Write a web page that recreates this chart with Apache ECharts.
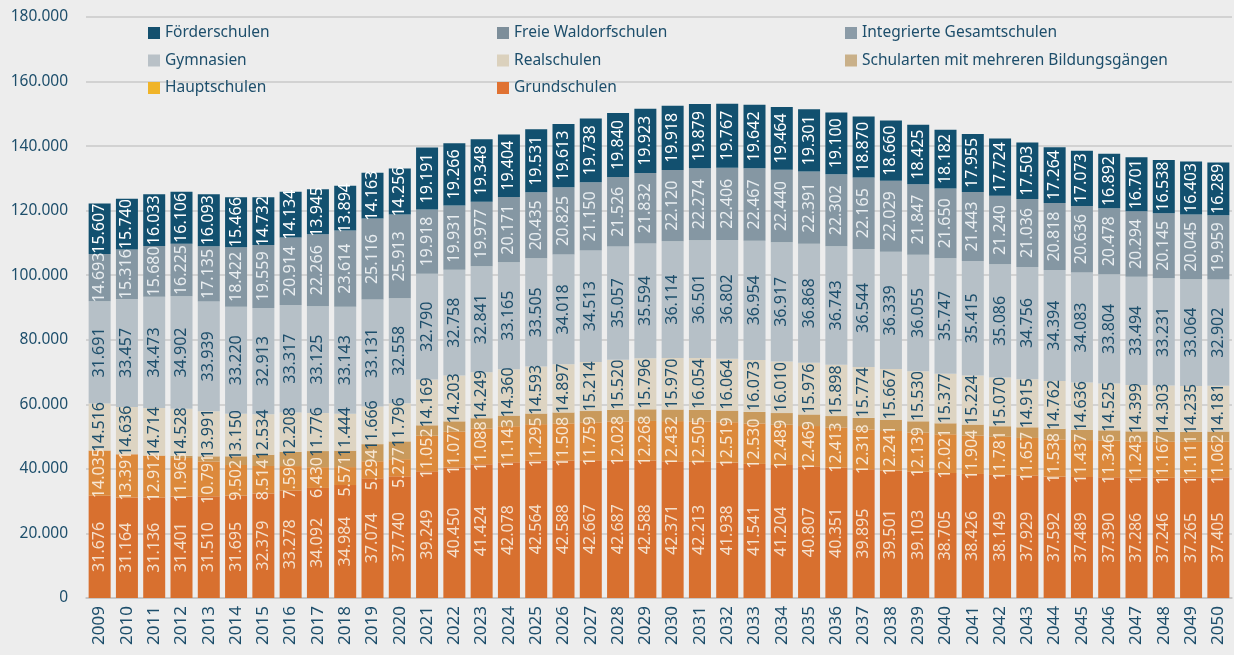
<!DOCTYPE html>
<html>
<head>
<meta charset="utf-8">
<script src="https://cdn.jsdelivr.net/npm/echarts@6/dist/echarts.min.js"></script>
<style>
    html, body { margin: 0; padding: 0; background: #ededed; }
    #id-div-chart { width: 1234px; height: 655px; }
</style>
</head>
<body>
<div id="id-div-chart"></div>
<script>
var log = console.log.bind(console)

var e = (selector) => document.querySelector(selector)

// Jahre 2009 - 2050
var years = []
for (var y = 2009; y <= 2050; y++) {
    years.push(String(y))
}

var grundschulen = [
    31676, 31164, 31136, 31401, 31510, 31695, 32379, 33278, 34092, 34984, 37074, 37740,
    39249, 40450, 41424, 42078, 42564, 42588, 42667, 42687, 42588, 42371, 42213, 41938, 41541, 41204,
    40807, 40351, 39895, 39501, 39103, 38705, 38426, 38149, 37929, 37592, 37489, 37390, 37286, 37246, 37265, 37405,
]

var hauptschulen = [
    14035, 13391, 12912, 11965, 10791, 9502, 8514, 7596, 6430, 5571, 5294, 5277,
    11052, 11077, 11088, 11143, 11295, 11508, 11759, 12028, 12268, 12432, 12505, 12519, 12530, 12489,
    12469, 12413, 12318, 12241, 12139, 12021, 11904, 11781, 11657, 11538, 11437, 11346, 11243, 11167, 11111, 11062,
]

// ohne Beschriftung im Original, aus der Balkenhöhe geschätzt
var mehrereBildungsgaenge = [
    0, 0, 100, 700, 1600, 2700, 3500, 4400, 5000, 5100, 5300, 5500,
    3200, 3200, 3200, 3300, 3300, 3400, 3500, 3600, 3600, 3600, 3600, 3600, 3600, 3600,
    3600, 3600, 3600, 3500, 3500, 3400, 3400, 3300, 3300, 3300, 3200, 3200, 3100, 3100, 3100, 3100,
]

var realschulen = [
    14516, 14636, 14714, 14528, 13991, 13150, 12534, 12208, 11776, 11444, 11666, 11796,
    14169, 14203, 14249, 14360, 14593, 14897, 15214, 15520, 15796, 15970, 16054, 16064, 16073, 16010,
    15976, 15898, 15774, 15667, 15530, 15377, 15224, 15070, 14915, 14762, 14636, 14525, 14399, 14303, 14235, 14181,
]

var gymnasien = [
    31691, 33457, 34473, 34902, 33939, 33220, 32913, 33317, 33125, 33143, 33131, 32558,
    32790, 32758, 32841, 33165, 33505, 34018, 34513, 35057, 35594, 36114, 36501, 36802, 36954, 36917,
    36868, 36743, 36544, 36339, 36055, 35747, 35415, 35086, 34756, 34394, 34083, 33804, 33494, 33231, 33064, 32902,
]

var gesamtschulen = [
    14693, 15316, 15680, 16225, 17135, 18422, 19559, 20914, 22266, 23614, 25116, 25913,
    19918, 19931, 19977, 20171, 20435, 20825, 21150, 21526, 21832, 22120, 22274, 22406, 22467, 22440,
    22391, 22302, 22165, 22029, 21847, 21650, 21443, 21240, 21036, 20818, 20636, 20478, 20294, 20145, 20045, 19959,
]

var waldorfschulen = []

var foerderschulen = [
    15607, 15740, 16033, 16106, 16093, 15466, 14732, 14134, 13945, 13894, 14163, 14256,
    19191, 19266, 19348, 19404, 19531, 19613, 19738, 19840, 19923, 19918, 19879, 19767, 19642, 19464,
    19301, 19100, 18870, 18660, 18425, 18182, 17955, 17724, 17503, 17264, 17073, 16892, 16701, 16538, 16403, 16289,
]

var yTicks = [0, 20000, 40000, 60000, 80000, 100000, 120000, 140000, 160000, 180000]

var navy = '#1d4e6b'
var font = '"Noto Sans", sans-serif'

// 31676 -> "31.676"
var germanNumber = function(n) {
    var s = String(Math.round(n))
    return s.replace(/\B(?=(\d{3})+(?!\d))/g, '.')
}

var barSeries = function(name, data, color, labelColor) {
    var s = {
        name: name,
        type: 'bar',
        stack: 'total',
        data: data,
        barWidth: 22,
        itemStyle: {
            color: color,
        },
        label: {
            show: labelColor != undefined,
            position: 'inside',
            rotate: 90,
            color: labelColor,
            fontFamily: font,
            fontSize: 16,
            formatter: (p) => germanNumber(p.value),
        },
    }
    return s
}

var legendItem = function(name, color) {
    return {
        name: name,
        itemStyle: {
            color: color,
        },
    }
}

var legend = function(left, items) {
    return {
        orient: 'vertical',
        left: left,
        top: 24,
        padding: 0,
        itemGap: 9.5,
        itemWidth: 12,
        itemHeight: 12,
        icon: 'rect',
        selectedMode: false,
        textStyle: {
            color: navy,
            fontFamily: font,
            fontSize: 15.5,
            lineHeight: 18,
        },
        data: items,
    }
}

var chartOption = function() {
    var option = {
        backgroundColor: '#ededed',
        animation: false,
        textStyle: {
            fontFamily: font,
        },
        grid: {
            left: 86,
            right: 2,
            top: 17,
            bottom: 57,
        },
        legend: [
            legend(148, [
                legendItem('Förderschulen', '#14506e'),
                legendItem('Gymnasien', '#b9c1c7'),
                legendItem('Hauptschulen', '#f0b429'),
            ]),
            legend(497, [
                legendItem('Freie Waldorfschulen', '#7d8e9a'),
                legendItem('Realschulen', '#dbd1bd'),
                legendItem('Grundschulen', '#e07232'),
            ]),
            legend(845, [
                legendItem('Integrierte Gesamtschulen', '#8b9ba7'),
                legendItem('Schularten mit mehreren Bildungsgängen', '#c9b089'),
            ]),
        ],
        xAxis: {
            type: 'category',
            data: years,
            axisTick: { show: false },
            axisLine: {
                lineStyle: { color: '#c4c4c4', width: 1.5 },
            },
            axisLabel: {
                rotate: 90,
                interval: 0,
                color: navy,
                fontFamily: font,
                fontSize: 17,
                margin: 8,
            },
        },
        yAxis: {
            type: 'value',
            min: yTicks[0],
            max: yTicks[yTicks.length - 1],
            interval: yTicks[1] - yTicks[0],
            axisLabel: {
                color: navy,
                fontFamily: font,
                fontSize: 15.5,
                margin: 18,
                formatter: (v) => germanNumber(v),
            },
            splitLine: {
                lineStyle: { color: '#c9c9c9', width: 1.5 },
            },
        },
        series: [
            barSeries('Grundschulen', grundschulen, '#d8702f', '#f4dfcb'),
            barSeries('Hauptschulen', hauptschulen, '#dc893b', '#f6e6d2'),
            barSeries('Schularten mit mehreren Bildungsgängen', mehrereBildungsgaenge, '#c99a5c'),
            barSeries('Realschulen', realschulen, '#ddd4c2', navy),
            barSeries('Gymnasien', gymnasien, '#b6c0c7', navy),
            barSeries('Integrierte Gesamtschulen', gesamtschulen, '#8597a3', '#e8edf0'),
            barSeries('Freie Waldorfschulen', waldorfschulen, '#7d8e9a'),
            barSeries('Förderschulen', foerderschulen, '#12506f', '#ffffff'),
        ],
    }
    return option
}

var __main = function() {
    var chart = echarts.init(e('#id-div-chart'))
    chart.setOption(chartOption())
}

__main()
</script>
</body>
</html>
